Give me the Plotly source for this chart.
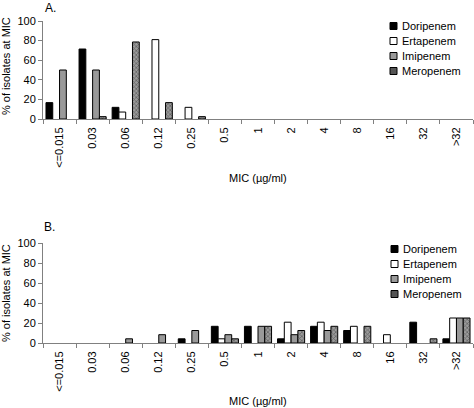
import plotly.graph_objects as go

categories = ["<=0.015", "0.03", "0.06", "0.12", "0.25", "0.5", "1", "2", "4", "8", "16", "32", ">32"]
drugs = ["Doripenem", "Ertapenem", "Imipenem", "Meropenem"]

# Panel A (% of isolates at MIC)
a_doripenem = [16.7, 71.4, 11.9, 0, 0, 0, 0, 0, 0, 0, 0, 0, 0]
a_ertapenem = [0, 0, 7.1, 81.0, 11.9, 0, 0, 0, 0, 0, 0, 0, 0]
a_imipenem = [50.0, 50.0, 0, 0, 0, 0, 0, 0, 0, 0, 0, 0, 0]
a_meropenem = [0, 2.4, 78.6, 16.7, 2.4, 0, 0, 0, 0, 0, 0, 0, 0]

# Panel B (% of isolates at MIC)
b_doripenem = [0, 0, 0, 0, 4.2, 16.7, 16.7, 4.2, 16.7, 12.5, 0, 20.8, 4.2]
b_ertapenem = [0, 0, 0, 0, 0, 4.2, 0, 20.8, 20.8, 16.7, 8.3, 0, 25.0]
b_imipenem = [0, 0, 4.2, 8.3, 12.5, 8.3, 16.7, 8.3, 12.5, 0, 0, 0, 25.0]
b_meropenem = [0, 0, 0, 0, 0, 4.2, 16.7, 12.5, 16.7, 16.7, 0, 4.2, 25.0]

W, H = 474, 408
FONT = "Liberation Sans, Arial, sans-serif"

fills = {"Doripenem": "black", "Ertapenem": "white", "Imipenem": "#999999", "Meropenem": "#8a8a8a"}
patterns = {"Meropenem": dict(shape="x", fgcolor="#222222", bgcolor="#9a9a9a", size=3, solidity=0.4)}

fig = go.Figure()
panels = [
    ("x", "y", [a_doripenem, a_ertapenem, a_imipenem, a_meropenem]),
    ("x2", "y2", [b_doripenem, b_ertapenem, b_imipenem, b_meropenem]),
]
for xa, ya, series in panels:
    for name, vals in zip(drugs, series):
        m = dict(color=fills[name], line=dict(color="black", width=1))
        if name in patterns:
            m["pattern"] = patterns[name]
        # zero-percent bins are drawn as empty (no bar outline)
        yv = [v if v else None for v in vals]
        fig.add_trace(go.Bar(x=categories, y=yv, name=name, marker=m,
                             xaxis=xa, yaxis=ya, showlegend=False))

xdom = [43 / W, 473 / W]
yA = [1 - 119 / H, 1 - 21 / H]
yB = [1 - 343 / H, 1 - 243 / H]

axis_common = dict(showgrid=False, zeroline=False, showline=True, linecolor="#808080",
                   linewidth=1, ticks="outside", tickcolor="#808080", ticklen=4,
                   tickfont=dict(family=FONT, size=11, color="black"))

xcommon = dict(axis_common, type="category", tickangle=-90, tickson="boundaries",
               ticklabelstandoff=3,
               categoryorder="array", categoryarray=categories, domain=xdom)
ycommon = dict(axis_common, range=[0, 100], dtick=20, tick0=0)

fig.update_layout(
    width=W, height=H,
    margin=dict(l=0, r=0, t=0, b=0, autoexpand=False),
    paper_bgcolor="white", plot_bgcolor="white",
    barmode="group", bargap=0.18, bargroupgap=0,
    xaxis=dict(xcommon, anchor="y"),
    yaxis=dict(ycommon, domain=yA, anchor="x"),
    xaxis2=dict(xcommon, anchor="y2"),
    yaxis2=dict(ycommon, domain=yB, anchor="x2"),
    showlegend=False,
    font=dict(family=FONT, size=11, color="black"),
)

def px(x, y):
    return x / W, 1 - y / H

# Legend keys (one per drug, per panel)
legend_rows = [(390, [26, 41, 56, 71]), (391, [249, 264, 279, 294])]
for sx, rows in legend_rows:
    for name, yc in zip(drugs, rows):
        x0, y0 = px(sx, yc + 3.5)
        x1, y1 = px(sx + 7, yc - 3.5)
        fig.add_shape(type="rect", xref="paper", yref="paper", x0=x0, y0=y0, x1=x1, y1=y1,
                      fillcolor="#555555" if name == "Meropenem" else fills[name],
                      line=dict(color="black", width=1))
        tx, ty = px(sx + 9.5, yc)
        fig.add_annotation(text=name, xref="paper", yref="paper", x=tx, y=ty,
                           xanchor="left", yanchor="middle", showarrow=False,
                           font=dict(family=FONT, size=11, color="black"))

annots = [
    dict(text="A.", x=43, y=8, size=12, anchor="left"),
    dict(text="B.", x=42, y=227, size=12, anchor="left"),
    dict(text="MIC (µg/ml)", x=258, y=178, size=11, anchor="center"),
    dict(text="MIC (µg/ml)", x=258, y=401, size=11, anchor="center"),
]
for a in annots:
    ax, ay = px(a["x"], a["y"])
    fig.add_annotation(text=a["text"], xref="paper", yref="paper", x=ax, y=ay,
                       xanchor=a["anchor"], yanchor="middle", showarrow=False,
                       font=dict(family=FONT, size=a["size"], color="black"))
for yc in (66, 293):
    ax, ay = px(6, yc)
    fig.add_annotation(text="% of isolates at MIC", xref="paper", yref="paper",
                       x=ax, y=ay, textangle=-90, xanchor="center", yanchor="middle",
                       showarrow=False, font=dict(family=FONT, size=11, color="black"))

fig.write_html(
    "out.html",
    config={"displayModeBar": False},
    post_script="document.body.style.margin='0';document.body.style.overflow='hidden';",
)
